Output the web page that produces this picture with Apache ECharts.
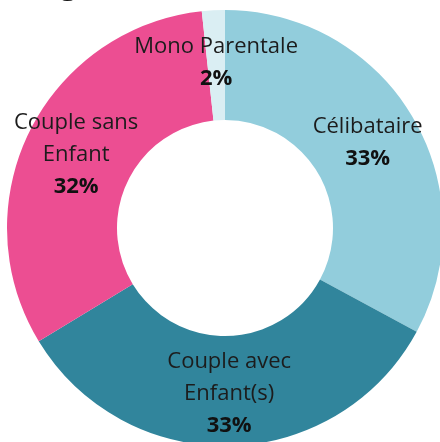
<!DOCTYPE html>
<html>
<head>
<meta charset="utf-8">
<script src="https://cdn.jsdelivr.net/npm/echarts@6/dist/echarts.min.js"></script>
<style>
html, body { margin: 0; padding: 0; background: #fff; }
#chart { width: 440px; height: 442px; }
</style>
</head>
<body>
<div id="chart"></div>
<script>
var categories = ['Célibataire', 'Couple avec\nEnfant(s)', 'Couple sans\nEnfant', 'Mono Parentale'];
var values = [32.9, 33.4, 32.0, 1.7];
var colors = ['#92CDDC', '#31859C', '#EC4E92', '#DAEEF3'];

var chart = echarts.init(document.getElementById('chart'));

var pieData = [];
for (var i = 0; i < categories.length; i++) {
    pieData.push({
        name: categories[i],
        value: values[i],
        itemStyle: { color: colors[i] }
    });
}

var option = {
    backgroundColor: '#fff',
    animation: false,
    graphic: [{
        type: 'text',
        left: 60,
        top: -30,
        style: {
            text: 'g',
            fontSize: 30,
            fontWeight: 'bold',
            fontFamily: 'Open Sans',
            fill: '#111'
        }
    }],
    series: [{
        type: 'pie',
        center: [225, 228],
        radius: [108, 218],
        startAngle: 90,
        clockwise: true,
        data: pieData,
        label: {
            show: true,
            position: 'inside',
            fontFamily: 'Open Sans',
            formatter: function (p) {
                var lines = p.name.split('\n');
                var s = [];
                for (var j = 0; j < lines.length; j++) {
                    s.push('{n|' + lines[j] + '}');
                }
                s.push('{p|' + Math.round(p.percent) + '%}');
                return s.join('\n');
            },
            rich: {
                n: {
                    fontSize: 22,
                    fontFamily: 'Open Sans',
                    color: '#1c1c1c',
                    lineHeight: 32
                },
                p: {
                    fontSize: 22,
                    fontFamily: 'Open Sans',
                    fontWeight: 'bold',
                    color: '#111',
                    lineHeight: 32
                }
            }
        },
        labelLine: { show: false }
    }]
};

chart.setOption(option);
</script>
</body>
</html>
